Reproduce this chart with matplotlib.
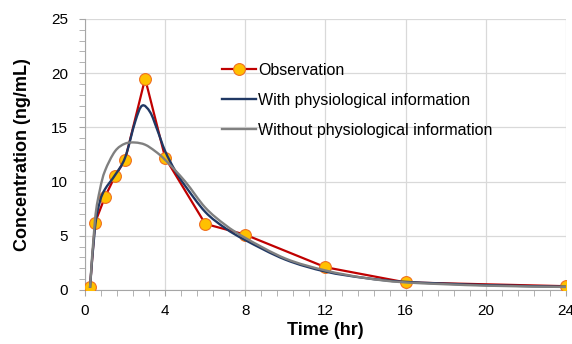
import matplotlib
matplotlib.use("Agg")
import numpy as np
import matplotlib.pyplot as plt
from matplotlib.path import Path
from matplotlib.patches import PathPatch
from matplotlib.lines import Line2D
from matplotlib.ticker import MultipleLocator

plt.rcParams["font.family"] = ["Liberation Sans", "DejaVu Sans"]

# observed concentrations
obs_t = [0.25, 0.5, 1, 1.5, 2, 3, 4, 6, 8, 12, 16, 24]
obs_c = [0.3, 6.2, 8.6, 10.5, 12.0, 19.5, 12.2, 6.1, 5.1, 2.1, 0.7, 0.35]

# model with physiological information
phys_t = [0.25, 0.5, 0.75, 1, 1.5, 2, 2.5, 2.85, 3.25, 3.6, 4, 4.5, 5, 6, 7, 8,
          10, 12, 14, 16, 20, 24]
phys_c = [0.2, 5.8, 8.2, 9.3, 10.6, 12.2, 15.5, 17.0, 16.4, 14.8, 12.8, 11.0,
          9.6, 7.2, 5.7, 4.6, 2.8, 1.7, 1.1, 0.75, 0.45, 0.3]

# model without physiological information
nophys_t = [0.25, 0.5, 0.75, 1, 1.5, 2, 2.5, 3, 3.5, 4, 5, 6, 7, 8, 10, 12,
            14, 16, 20, 24]
nophys_c = [0.2, 6.5, 9.3, 11.0, 12.8, 13.5, 13.6, 13.4, 12.8, 12.0, 10.0,
            7.6, 6.0, 4.8, 2.9, 1.8, 1.1, 0.7, 0.4, 0.28]


def smooth_path(x, y):
    """Excel-like smoothed line: cubic Bezier segments through the points"""
    p = np.column_stack([x, y]).astype(float)
    n = len(p)
    verts = [p[0]]
    codes = [Path.MOVETO]
    for i in range(n - 1):
        p0 = p[max(i - 1, 0)]
        p3 = p[min(i + 2, n - 1)]
        c1 = p[i] + (p[i + 1] - p0) / 6
        c2 = p[i + 1] - (p3 - p[i]) / 6
        verts += [c1, c2, p[i + 1]]
        codes += [Path.CURVE4] * 3
    return Path(verts, codes)


fig = plt.figure(figsize=(5.72, 3.44), dpi=100)
ax = fig.add_axes([0.1486, 0.157, 0.8409, 0.788])

ax.plot(obs_t, obs_c, color="#C00000", lw=1.6, marker="o", ms=8.5,
        mfc="#FFC000", mec="#F07020", mew=0.8, zorder=3)
ax.add_patch(PathPatch(smooth_path(phys_t, phys_c), fill=False,
                       ec="#203864", lw=1.7, zorder=4))
ax.add_patch(PathPatch(smooth_path(nophys_t, nophys_c), fill=False,
                       ec="#808080", lw=1.7, zorder=4))

handles = [
    Line2D([], [], color="#C00000", lw=1.6, marker="o", ms=8.5,
           mfc="#FFC000", mec="#F07020", mew=0.8),
    Line2D([], [], color="#203864", lw=1.7),
    Line2D([], [], color="#808080", lw=1.7),
]
labels = ["Observation", "With physiological information",
          "Without physiological information"]

ax.set_xlim(0, 24)
ax.set_ylim(0, 25)
ax.xaxis.set_major_locator(MultipleLocator(4))
ax.xaxis.set_minor_locator(MultipleLocator(0.8))
ax.yaxis.set_major_locator(MultipleLocator(5))
ax.yaxis.set_minor_locator(MultipleLocator(1))
ax.grid(True, which="major", color="#D9D9D9", lw=0.9)
ax.set_axisbelow(True)

for s in ["top", "right"]:
    ax.spines[s].set_visible(False)
for s in ["left", "bottom"]:
    ax.spines[s].set_color("#A6A6A6")
ax.tick_params(which="major", length=4, color="#A6A6A6", labelsize=11)
ax.tick_params(axis="y", which="major", pad=8)
ax.tick_params(axis="x", which="major", pad=6)
ax.tick_params(which="minor", length=4, color="#A6A6A6")

ax.set_xlabel("Time (hr)", fontsize=13, fontweight="bold")
ax.set_ylabel("Concentration (ng/mL)", fontsize=13, fontweight="bold")
ax.xaxis.set_label_coords(0.5, -0.118)
ax.yaxis.set_label_coords(-0.112, 0.5)

ax.legend(handles, labels, loc="upper left", bbox_to_anchor=(0.285, 0.839),
          frameon=False, fontsize=11.5, handlelength=2.15, handletextpad=0.1,
          labelspacing=0.95, borderpad=0, borderaxespad=0)

fig.savefig("out.png", dpi=100, facecolor="w")
